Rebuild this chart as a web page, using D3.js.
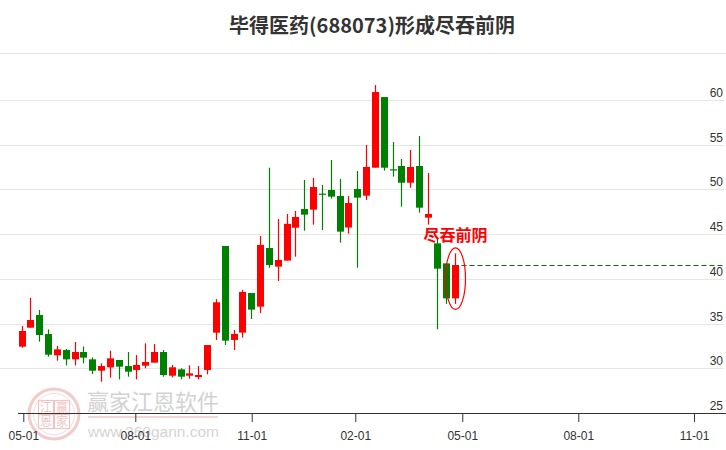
<!DOCTYPE html>
<html>
<head>
<meta charset="utf-8">
<script src="https://cdn.jsdelivr.net/npm/d3@7"></script>
<style>
  html, body { margin: 0; padding: 0; background: #fff; }
  svg { display: block; }
</style>
</head>
<body>
<svg id="chart" width="726" height="450"></svg>
<script>
// ---- data (weekly candles) ----
const opens  = [32.42,34.54,35.96,33.83,31.45,32.04,31.00,31.82,31.00,29.73,
                30.11,30.93,30.25,29.81,30.29,30.63,31.82,29.17,29.88,29.17,
                29.02,29.81,33.98,43.68,33.17,33.99,38.42,36.89,43.45,41.37,
                42.04,45.72,47.81,47.74,49.53,49.94,49.27,45.74,50.05,49.30,
                52.43,60.33,52.25,52.62,50.75,52.62,46.84,43.97,41.73,37.82];
const closes = [34.17,35.40,33.72,31.52,32.12,31.00,31.82,31.19,29.73,30.25,
                31.11,30.18,29.62,30.37,30.70,31.82,29.25,30.11,29.06,29.43,
                29.25,32.60,37.38,33.09,33.84,38.53,36.56,43.79,41.55,42.11,
                46.15,46.92,47.18,50.27,49.42,49.19,45.28,48.48,49.08,52.51,
                60.89,52.43,52.17,50.75,52.51,47.96,47.25,41.14,37.82,41.55];
const highs  = [34.73,37.89,36.52,34.35,32.49,32.16,32.94,32.42,31.22,30.55,
                31.97,30.93,31.82,31.48,32.79,32.71,32.04,30.37,30.00,30.33,
                30.25,32.60,37.73,43.68,34.28,38.76,38.42,44.79,52.43,46.69,
                47.25,47.59,51.06,51.30,50.50,53.29,51.18,49.27,52.06,54.97,
                61.67,60.33,55.30,53.40,54.41,55.97,51.84,44.53,41.73,42.85];
const lows   = [32.30,34.54,32.98,31.30,30.85,30.33,30.33,30.55,29.36,28.50,
                28.95,28.76,29.06,28.76,30.00,30.63,29.06,28.99,28.76,28.84,
                28.76,29.32,33.16,32.61,32.05,33.43,35.51,36.18,41.25,39.76,
                42.04,42.48,45.39,46.06,45.46,48.97,44.05,45.05,41.25,48.82,
                52.43,52.10,51.43,48.07,50.19,47.40,46.07,34.36,37.20,37.20];
const yTicks = [25, 30, 35, 40, 45, 50, 55, 60];
const xTickWeeks  = [0.2, 12.875, 26.05, 37.77, 49.88, 63.01, 76.11];
const xTickLabels = ["05-01", "08-01", "11-01", "02-01", "05-01", "08-01", "11-01"];
const titleText  = "毕得医药(688073)形成尽吞前阴";
const signalText = "尽吞前阴";
const wmText = "赢家江恩软件";
const wmUrl  = "www.360gann.com";
const sealChars = ["江", "赢", "恩", "家"];

// ---- setup ----
const svg = d3.select("#chart");
const W = 726, H = 450;
const x = d3.scaleLinear().domain([-0.4, 79.5]).range([18, 724]);
const y = d3.scaleLinear().domain([25, 60]).range([413, 100]);
const UP = "#ff0000", DOWN = "#008000";
const n = opens.length;
const candles = d3.range(n).map(i => ({i, o: opens[i], c: closes[i], h: highs[i], l: lows[i]}));

// title
svg.append("text")
  .attr("x", 372).attr("y", 33)
  .attr("text-anchor", "middle")
  .style("font-family", "'Noto Sans CJK SC', sans-serif")
  .style("font-weight", "bold")
  .style("font-size", "20px")
  .style("fill", "#333")
  .text(titleText);

svg.append("line")
  .attr("x1", 0).attr("x2", W).attr("y1", 53.5).attr("y2", 53.5)
  .style("stroke", "#e3e3e3").style("stroke-width", 1);

// gridlines
svg.append("g").selectAll("line")
  .data(yTicks.filter(t => t > 25))
  .join("line")
  .attr("x1", 0).attr("x2", 724)
  .attr("y1", d => Math.round(y(d)) + 0.5).attr("y2", d => Math.round(y(d)) + 0.5)
  .style("stroke", "#e6e6e6").style("stroke-width", 1);

// y labels
svg.append("g").selectAll("text")
  .data(yTicks)
  .join("text")
  .attr("x", 723).attr("y", d => y(d) - 3)
  .attr("text-anchor", "end")
  .style("font-family", "'Liberation Sans', Arial, sans-serif")
  .style("font-size", "12px")
  .style("fill", "#333")
  .text(d => d);

// watermark
const wm = svg.append("g").attr("class", "watermark");
const sx = 54, sy = 414;
wm.append("circle").attr("cx", sx).attr("cy", sy).attr("r", 25)
  .style("fill", "none").style("stroke", "#f2cccc").style("stroke-width", 3);
wm.append("circle").attr("cx", sx).attr("cy", sy).attr("r", 20.5)
  .style("fill", "none").style("stroke", "#f6dcdc").style("stroke-width", 1);
sealChars.forEach((ch, k) => {
  const cx = sx + (k % 2 === 0 ? -8 : 8);
  const cy = sy + (k < 2 ? -6.5 : 7.5);
  wm.append("rect").attr("x", cx - 7.5).attr("y", cy - 7).attr("width", 15).attr("height", 14)
    .style("fill", "none").style("stroke", "#f0c4c4").style("stroke-width", 1.2);
  wm.append("text").attr("x", cx).attr("y", cy + 4.5)
    .attr("text-anchor", "middle")
    .style("font-family", "'Noto Sans CJK SC', sans-serif")
    .style("font-size", "12px")
    .style("fill", "#f0c4c4")
    .text(ch);
});
wm.append("text").attr("x", 87).attr("y", 410)
  .style("font-family", "'Noto Sans CJK SC', sans-serif")
  .style("font-size", "22px")
  .style("fill", "#d2d2d2")
  .text(wmText);
wm.append("line").attr("x1", 88).attr("x2", 218).attr("y1", 417).attr("y2", 417)
  .style("stroke", "#f3d6d6").style("stroke-width", 2);
wm.append("text").attr("x", 88).attr("y", 437)
  .style("font-family", "'Liberation Sans', Arial, sans-serif")
  .style("font-size", "15.5px")
  .style("fill", "#d4d4d4")
  .text(wmUrl);

// candles
const g = svg.append("g").attr("class", "candles");
g.selectAll("line.wick")
  .data(candles)
  .join("line")
  .attr("class", "wick")
  .attr("x1", d => Math.round(x(d.i)) + 0.5).attr("x2", d => Math.round(x(d.i)) + 0.5)
  .attr("y1", d => y(d.h)).attr("y2", d => y(d.l))
  .style("stroke", d => d.c >= d.o ? UP : DOWN)
  .style("stroke-width", 1.2);
g.selectAll("rect.body")
  .data(candles)
  .join("rect")
  .attr("class", "body")
  .attr("x", d => Math.round(x(d.i)) - 3)
  .attr("width", 7)
  .attr("y", d => y(Math.max(d.o, d.c)))
  .attr("height", d => Math.max(1.2, Math.abs(y(d.o) - y(d.c))))
  .style("fill", d => d.c >= d.o ? UP : DOWN);

// x axis
const axis = d3.axisBottom(x)
  .tickValues(xTickWeeks)
  .tickFormat((d, i) => xTickLabels[i])
  .tickSize(9)
  .tickSizeOuter(0)
  .tickPadding(9);
const ax = svg.append("g").attr("transform", "translate(0,413)").call(axis);
ax.select(".domain").remove();
ax.selectAll(".tick line").style("stroke", "#333");
ax.selectAll(".tick text")
  .style("font-family", "'Liberation Sans', Arial, sans-serif")
  .style("font-size", "12px")
  .style("fill", "#333");
svg.append("line").attr("x1", 18).attr("x2", W).attr("y1", 413.5).attr("y2", 413.5)
  .style("stroke", "#333").style("stroke-width", 1);

// signal annotation on last candle
const last = candles[n - 1];
const lx = Math.round(x(last.i)) + 0.5;
const ly = Math.round(y(last.c)) + 0.5;
svg.append("line")
  .attr("x1", lx + 6).attr("x2", 724)
  .attr("y1", ly).attr("y2", ly)
  .style("stroke", "#0a6e0a").style("stroke-width", 1)
  .style("stroke-dasharray", "5,3");
svg.append("ellipse")
  .attr("cx", lx)
  .attr("cy", (y(last.h) + y(last.l)) / 2)
  .attr("rx", 10)
  .attr("ry", (y(last.l) - y(last.h)) / 2 + 5.5)
  .style("fill", "none").style("stroke", UP).style("stroke-width", 1.2);
svg.append("text")
  .attr("x", lx).attr("y", y(last.h) - 12.5)
  .attr("text-anchor", "middle")
  .style("font-family", "'Noto Sans CJK SC', sans-serif")
  .style("font-weight", "bold")
  .style("font-size", "16px")
  .style("fill", UP)
  .text(signalText);
</script>
</body>
</html>
